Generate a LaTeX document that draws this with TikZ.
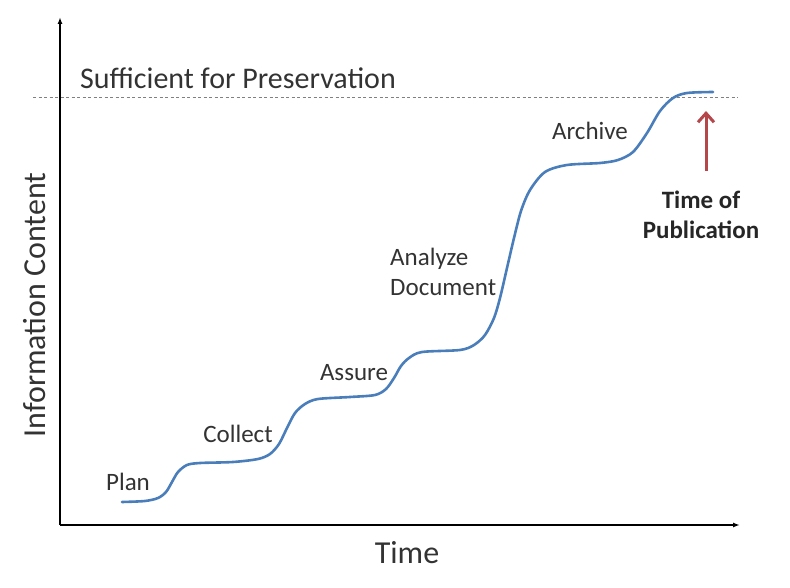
\documentclass[tikz,border=0pt]{standalone}
\usepackage{fontspec}
\setmainfont{Carlito}
\usetikzlibrary{arrows.meta}
\definecolor{curveblue}{HTML}{4A7EBB}
\definecolor{pubred}{HTML}{B5474B}
\definecolor{txtgray}{HTML}{333333}
\begin{document}
\begin{tikzpicture}[x=1pt, y=-1pt,
                    axis/.style={line width=1.6pt, -{Latex[length=7pt,width=5pt]}},
                    stage/.style={text=txtgray, font=\fontsize{25}{30}\selectfont, inner sep=0pt},
                    growth/.style={curveblue, line width=2.6pt, line cap=round},
                    pubarrow/.style={pubred, line width=3pt, -{Straight Barb[length=9pt,width=16pt]}}
                ]
                \useasboundingbox (0,0) rectangle (790,588);
                \coordinate (origin) at (60,525);
                \coordinate (ytop) at (60,17);
                \coordinate (xend) at (740,525);
                \coordinate (suffL) at (33,98);
                \coordinate (suffR) at (738,98);
                \draw[gray, line width=1pt, dash pattern=on 3pt off 2.5pt] (suffL) -- (suffR);
                \draw[axis] (origin) -- (ytop);
                \draw[axis] (origin) -- (xend);
                % growth of information content
                \draw[growth] plot[smooth, tension=0.5] coordinates {
                    (122,502) (145,501) (158,498) (166,492) (172,482) (178,472) (187,465)
                    (200,463) (233,462) (258,459) (270,454) (279,444) (287,428) (295,413)
                    (305,404) (318,399) (350,397) (375,395) (386,389) (394,378) (401,366)
                    (409,358) (422,352) (460,350) (474,345) (485,335) (494,318) (500,298)
                    (507,268) (514,238) (521,211) (530,190) (545,172) (567,165) (600,163)
                    (618,160) (633,152) (647,133) (660,111) (673,98) (687,93) (713,92)};
                \node[stage, anchor=west] (suff) at (80,78) {\fontsize{30}{36}\selectfont Sufficient for Preservation};
                \node[stage] (plan) at (128,482) {Plan};
                \node[stage] (collect) at (238,434) {Collect};
                \node[stage] (assure) at (354,373) {Assure};
                \node[stage, align=left, anchor=north west] (analyze) at (390,248) {Analyze\\Document};
                \node[stage] (archive) at (590,131) {Archive};
                \node[stage, align=center, font=\fontsize{25}{30}\selectfont\bfseries, text=black!85] (pub) at (701,215) {Time of\\Publication};
                \coordinate (pubtip) at (706,111);
                \draw[pubarrow] ([xshift=5pt, yshift=20pt]pub.north) -- (pubtip);
                \node[stage, rotate=90, font=\fontsize{32}{38}\selectfont] (ylabel) at (35,305) {Information Content};
                \node[stage, font=\fontsize{32}{38}\selectfont] (xlabel) at (407,553) {Time};
\end{tikzpicture}
\end{document}
